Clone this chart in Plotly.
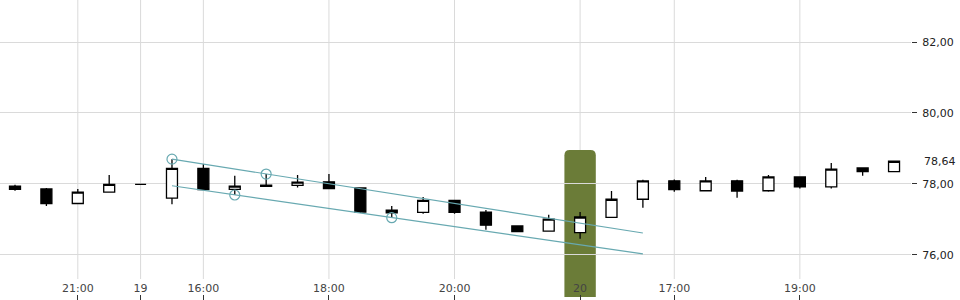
import plotly.graph_objects as go

# ---- data ----
opens  = [77.94, 77.86, 77.45, 77.77, 77.99, 77.60, 78.44, 77.85, 77.97, 77.96,
          78.06, 77.89, 77.26, 77.20, 77.54, 77.21, 76.82, 76.67, 76.63, 77.06,
          77.57, 78.09, 77.81, 78.09, 77.81, 78.20, 77.92, 78.45, 78.35]
highs  = [77.98, 77.89, 77.86, 78.25, 77.99, 78.70, 78.56, 78.23, 78.28, 78.25,
          78.28, 77.89, 77.38, 77.63, 77.54, 77.27, 76.82, 77.13, 77.21, 77.80,
          78.12, 78.13, 78.20, 78.12, 78.25, 78.20, 78.59, 78.45, 78.64]
lows   = [77.81, 77.38, 77.45, 77.77, 77.99, 77.43, 77.84, 77.69, 77.93, 77.90,
          77.87, 77.18, 77.05, 77.16, 77.16, 76.71, 76.66, 76.67, 76.46, 77.06,
          77.33, 77.78, 77.81, 77.61, 77.78, 77.87, 77.87, 78.23, 78.35]
closes = [77.85, 77.45, 77.77, 77.99, 77.99, 78.44, 77.84, 77.94, 77.93, 78.05,
          77.87, 77.21, 77.19, 77.54, 77.20, 76.84, 76.66, 77.01, 77.07, 77.57,
          78.09, 77.84, 78.09, 77.80, 78.20, 77.92, 78.42, 78.35, 78.64]

x_tick_pos    = [2, 4, 6, 10, 14, 18, 21, 25]
x_tick_labels = ["21:00", "19", "16:00", "18:00", "20:00", "20", "17:00", "19:00"]
y_tick_vals   = [76, 78, 80, 82]

upper_x = [5, 20]
upper_y = [78.70, 76.62]
lower_x = [5, 20]
lower_y = [77.95, 76.03]
pivot_x = [5, 7, 8, 12]
pivot_y = [78.70, 77.69, 78.28, 77.05]

highlight_idx = 18
last_price = 78.64

# ---- figure ----
xs = list(range(len(opens)))
teal = "#68a9b1"
fig = go.Figure()

fig.add_trace(go.Scatter(x=upper_x, y=upper_y, mode="lines",
                         line=dict(color=teal, width=1.2), hoverinfo="skip"))
fig.add_trace(go.Scatter(x=lower_x, y=lower_y, mode="lines",
                         line=dict(color=teal, width=1.2), hoverinfo="skip"))

fig.add_trace(go.Candlestick(
    x=xs, open=opens, high=highs, low=lows, close=closes,
    increasing=dict(line=dict(color="#000000", width=1.3), fillcolor="#ffffff"),
    decreasing=dict(line=dict(color="#000000", width=1.3), fillcolor="#000000"),
    whiskerwidth=0, hoverinfo="skip"))

fig.add_trace(go.Scatter(x=pivot_x, y=pivot_y, mode="markers",
                         marker=dict(symbol="circle-open", size=10,
                                     color=teal, line=dict(width=1.2)),
                         hoverinfo="skip"))

shapes = []
for tv in x_tick_pos:
    shapes.append(dict(type="line", xref="x", yref="paper", x0=tv, x1=tv,
                       y0=0.07, y1=1, line=dict(color="#dadada", width=1),
                       layer="below"))

h0, h1 = highlight_idx - 0.5, highlight_idx + 0.5
rx, ry = 0.17, 0.018
top, bot = 0.5, 0.01
path = (f"M {h0},{bot} L {h0},{top - ry} Q {h0},{top} {h0 + rx},{top} "
        f"L {h1 - rx},{top} Q {h1},{top} {h1},{top - ry} L {h1},{bot} Z")
shapes.append(dict(type="path", xref="x", yref="paper", path=path,
                   fillcolor="#6b7c38", line=dict(width=0), layer="between"))

fig.update_layout(
    width=960, height=300,
    margin=dict(l=0, r=49, t=0, b=0),
    paper_bgcolor="white", plot_bgcolor="white",
    showlegend=False,
    separators=",.",
    boxgap=0.5,
    font=dict(family="DejaVu Sans", size=11, color="#222222"),
    shapes=shapes,
    xaxis=dict(range=[-0.478, 28.54], showgrid=False, zeroline=False,
               tickvals=x_tick_pos, ticktext=x_tick_labels,
               ticks="inside", ticklen=5, tickcolor="#333333",
               ticklabelposition="inside", rangeslider=dict(visible=False),
               showline=False, fixedrange=True),
    yaxis=dict(range=[74.732, 83.183], side="right", tickvals=y_tick_vals,
               tickformat=".2f", showgrid=True, gridcolor="#dadada",
               gridwidth=1, zeroline=False, ticks="outside", ticklen=5,
               ticklabelstandoff=3,
               tickcolor="#333333", showline=False, fixedrange=True),
    annotations=[dict(x=1, xref="paper", y=last_price, yref="y",
                      text=f"{last_price:.2f}".replace(".", ","),
                      xanchor="left", yanchor="middle", xshift=11,
                      showarrow=False, font=dict(size=11, color="#222222"))],
)

fig.write_html("out.html")
